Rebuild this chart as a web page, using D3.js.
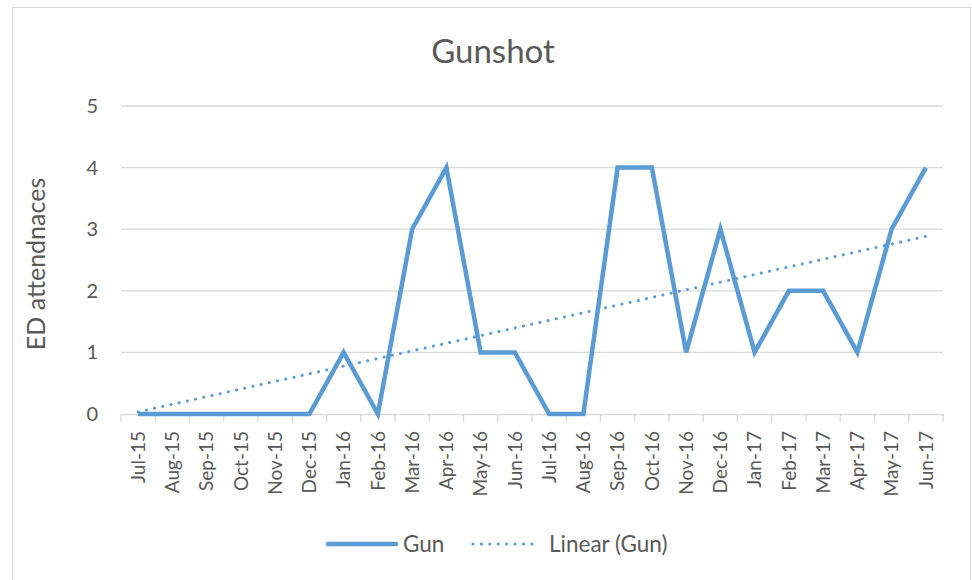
<!DOCTYPE html>
<html>
<head>
<meta charset="utf-8">
<script src="https://cdn.jsdelivr.net/npm/d3@7"></script>
<style>
  body { margin: 0; background: #fff; }
  svg text { font-family: Lato, "Open Sans", sans-serif; fill: #595959; }
</style>
</head>
<body>
<div class="graphic"></div>
<script>
var months = ["Jul-15", "Aug-15", "Sep-15", "Oct-15", "Nov-15", "Dec-15",
    "Jan-16", "Feb-16", "Mar-16", "Apr-16", "May-16", "Jun-16",
    "Jul-16", "Aug-16", "Sep-16", "Oct-16", "Nov-16", "Dec-16",
    "Jan-17", "Feb-17", "Mar-17", "Apr-17", "May-17", "Jun-17"];
var gun = [0, 0, 0, 0, 0, 0, 1, 0, 3, 4, 1, 1, 0, 0, 4, 4, 1, 3, 1, 2, 2, 1, 3, 4];
var yTicks = [0, 1, 2, 3, 4, 5];

var width = 972, height = 580;
var padding = { top: 106, left: 121, right: 29, bottom: 166 };
var blue = "#5b9bd5";

var svg = d3.select(".graphic")
    .append("svg")
    .attr("width", width)
    .attr("height", height);

// chart border
svg.append("rect")
    .attr("x", 12.5).attr("y", 7.5)
    .attr("width", 958).attr("height", 580)
    .attr("fill", "#fff")
    .attr("stroke", "#d9d9d9");

var x_scale = d3.scaleBand()
    .domain(months)
    .range([padding.left, width - padding.right]);

var y_scale = d3.scaleLinear()
    .domain([0, 5])
    .range([height - padding.bottom, padding.top]);

// gridlines
svg.append("g")
    .selectAll("line")
    .data(yTicks.filter(d => d > 0))
    .join("line")
    .attr("x1", padding.left).attr("x2", width - padding.right)
    .attr("y1", d => y_scale(d)).attr("y2", d => y_scale(d))
    .attr("stroke", "#d9d9d9").attr("stroke-width", 1.3);

// y axis labels
svg.append("g")
    .selectAll("text")
    .data(yTicks)
    .join("text")
    .attr("x", 98)
    .attr("y", d => y_scale(d))
    .attr("dy", "0.35em")
    .attr("text-anchor", "end")
    .style("font-size", "20px")
    .text(d => d);

// x axis
var xAxis = svg.append("g")
    .attr("transform", `translate(0,${y_scale(0)})`)
    .call(d3.axisBottom(x_scale).tickSize(0).tickPadding(0));
xAxis.select(".domain").attr("stroke", "#d9d9d9").attr("stroke-width", 1.3);

var bounds = months.map(m => x_scale(m)).concat([width - padding.right]);
xAxis.append("g")
    .selectAll("line")
    .data(bounds)
    .join("line")
    .attr("x1", d => d).attr("x2", d => d)
    .attr("y1", 0).attr("y2", 8)
    .attr("stroke", "#d9d9d9").attr("stroke-width", 1.3);

xAxis.selectAll(".tick text")
    .attr("transform", "rotate(-90)")
    .attr("text-anchor", "end")
    .attr("x", -17)
    .attr("y", 0)
    .attr("dy", "0.35em")
    .attr("fill", "#595959")
    .style("font-size", "19px")
    .style("font-family", "Lato, sans-serif");

// series line
var line = d3.line()
    .x((d, i) => x_scale(months[i]) + x_scale.bandwidth() / 2)
    .y(d => y_scale(d));

svg.append("path")
    .datum(gun)
    .attr("d", line)
    .attr("fill", "none")
    .attr("stroke", blue)
    .attr("stroke-width", 4.5)
    .attr("stroke-linejoin", "miter");

// linear trend (least squares, as the spreadsheet does)
var xs = gun.map((d, i) => i + 1);
var mx = d3.mean(xs), my = d3.mean(gun);
var slope = d3.sum(xs, (x, i) => (x - mx) * (gun[i] - my)) / d3.sum(xs, x => (x - mx) * (x - mx));
var intercept = my - slope * mx;
var trend = [1, gun.length].map(x => intercept + slope * x);

svg.append("path")
    .datum(trend)
    .attr("d", d3.line()
        .x((d, i) => x_scale(months[i === 0 ? 0 : months.length - 1]) + x_scale.bandwidth() / 2)
        .y(d => y_scale(d)))
    .attr("fill", "none")
    .attr("stroke", blue)
    .attr("stroke-width", 3)
    .attr("stroke-linecap", "round")
    .attr("stroke-dasharray", "0.1 8.3");

// title
svg.append("text")
    .attr("x", 493).attr("y", 63)
    .attr("text-anchor", "middle")
    .style("font-size", "33px")
    .text("Gunshot");

// y axis title
svg.append("text")
    .attr("transform", `translate(45,${(y_scale(0) + y_scale(5)) / 2 + 4}) rotate(-90)`)
    .attr("text-anchor", "middle")
    .style("font-size", "25px")
    .text("ED attendnaces");

// legend
var legend = svg.append("g").attr("transform", "translate(0,544)");
legend.append("line")
    .attr("x1", 328).attr("x2", 396)
    .attr("stroke", blue).attr("stroke-width", 4.5).attr("stroke-linecap", "round");
legend.append("text").attr("x", 403).attr("dy", "0.35em").style("font-size", "22.5px").text("Gun");
legend.append("line")
    .attr("x1", 473).attr("x2", 536)
    .attr("stroke", blue).attr("stroke-width", 3).attr("stroke-linecap", "round")
    .attr("stroke-dasharray", "0.1 8.3");
legend.append("text").attr("x", 549).attr("dy", "0.35em").style("font-size", "22.5px").text("Linear (Gun)");
</script>
</body>
</html>
